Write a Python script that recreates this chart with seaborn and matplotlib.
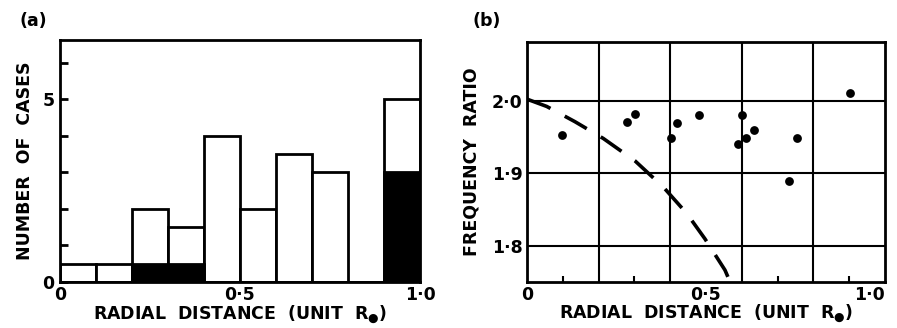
import numpy as np
import pandas as pd
import matplotlib
matplotlib.use("Agg")
import matplotlib.pyplot as plt
import seaborn as sns


# (a) histogram of cases against radial distance, bins of 0.1 R_sun
bin_edges = [0.0, 0.1, 0.2, 0.3, 0.4, 0.5, 0.6, 0.7, 0.8, 0.9, 1.0]
bin_centres = [0.05, 0.15, 0.25, 0.35, 0.45, 0.55, 0.65, 0.75, 0.85, 0.95]
total_cases = [0.5, 0.5, 2.0, 1.5, 4.0, 2.0, 3.5, 3.0, 0.0, 5.0]
black_cases = [0.0, 0.0, 0.5, 0.5, 0.0, 0.0, 0.0, 0.0, 0.0, 3.0]

# (b) frequency ratio against radial distance
point_r = [0.099, 0.278, 0.302, 0.401, 0.420, 0.481, 0.590, 0.601, 0.612,
           0.634, 0.733, 0.754, 0.902]
point_ratio = [1.953, 1.971, 1.982, 1.949, 1.969, 1.980, 1.940, 1.980, 1.949,
               1.960, 1.889, 1.948, 2.010]

# dashed curve
curve_r = [0.0, 0.055, 0.134, 0.213, 0.302, 0.381, 0.446, 0.497, 0.553, 0.567]
curve_ratio = [2.002, 1.992, 1.971, 1.948, 1.917, 1.881, 1.845, 1.810, 1.767, 1.751]

LW = 2.0
FONT = dict(fontsize=12.5, fontweight="bold")
XLABEL = "RADIAL  DISTANCE  (UNIT  R$_{●}$)"


def style_axes(ax):
    for s in ax.spines.values():
        s.set_visible(True)
        s.set_linewidth(LW)
        s.set_color("black")


def main():
    sns.set_style("white")
    plt.rcParams["font.family"] = ["DejaVu Sans"]
    plt.rcParams["mathtext.fontset"] = "dejavusans"
    for key in ["text.color", "axes.labelcolor", "xtick.color", "ytick.color"]:
        plt.rcParams[key] = "black"

    fig = plt.figure(figsize=(8.97, 3.28), dpi=100)
    ax1 = fig.add_axes([0.0669, 0.1402, 0.4013, 0.738])
    ax2 = fig.add_axes([0.5875, 0.1412, 0.3991, 0.7317])

    # ---- panel (a)
    hist = pd.DataFrame({"r": bin_centres, "total": total_cases, "black": black_cases})
    sns.histplot(data=hist, x="r", weights="total", bins=bin_edges, ax=ax1,
                 color="white", edgecolor="black", linewidth=LW, alpha=1)
    sns.histplot(data=hist, x="r", weights="black", bins=bin_edges, ax=ax1,
                 color="black", edgecolor="black", linewidth=LW, alpha=1)
    ax1.set_xlim(0, 1.0)
    ax1.set_ylim(0, 6.62)
    ax1.set_yticks(range(7))
    ax1.set_yticklabels(["0", "", "", "", "", "5", ""], **FONT)
    ax1.set_xticks([0, 0.5, 1.0])
    ax1.set_xticklabels(["0", "0·5", "1·0"], **FONT)
    ax1.tick_params(axis="y", direction="in", length=6, width=LW, left=True, pad=4)
    ax1.tick_params(axis="x", length=0, pad=3)
    ax1.set_xlabel(XLABEL, labelpad=-1, **FONT)
    ax1.set_ylabel("NUMBER  OF  CASES", labelpad=6, **FONT)
    style_axes(ax1)
    fig.text(0.022, 0.92, "(a)", **FONT)

    # ---- panel (b)
    sns.scatterplot(x=point_r, y=point_ratio, ax=ax2, color="black", s=40,
                    edgecolor="black", linewidth=0, zorder=3)
    sns.lineplot(x=curve_r, y=curve_ratio, ax=ax2, color="black", linewidth=2.6,
                 zorder=3)
    ax2.lines[-1].set_dashes([7, 4.5])
    ax2.set_xlim(0, 1.0)
    ax2.set_ylim(1.751, 2.081)
    for g in [0.2, 0.4, 0.6, 0.8]:
        ax2.axvline(g, color="black", linewidth=1.5, zorder=1)
    ax2.set_yticks([1.8, 1.9, 2.0])
    ax2.set_yticklabels(["1·8", "1·9", "2·0"], **FONT)
    ax2.grid(True, axis="y", color="black", linewidth=1.5)
    ax2.set_xticks([0, 0.5, 1.0])
    ax2.set_xticklabels(["0", "0·5", "1·0"], **FONT)
    ax2.set_xticks([0.1, 0.3, 0.5, 0.7, 0.9], minor=True)
    ax2.tick_params(axis="x", which="major", length=0, pad=3)
    ax2.tick_params(axis="x", which="minor", direction="in", length=4, width=1.5, bottom=True)
    ax2.tick_params(axis="y", length=0, pad=3)
    ax2.set_xlabel(XLABEL, labelpad=-1, **FONT)
    ax2.set_ylabel("FREQUENCY  RATIO", labelpad=8, **FONT)
    style_axes(ax2)
    fig.text(0.527, 0.92, "(b)", **FONT)

    # keep the right-hand "1·0" inside the canvas
    ax2.get_xticklabels()[-1].set_horizontalalignment("right")

    fig.savefig("out.png", dpi=100)
    plt.close(fig)


if __name__ == "__main__":
    main()
